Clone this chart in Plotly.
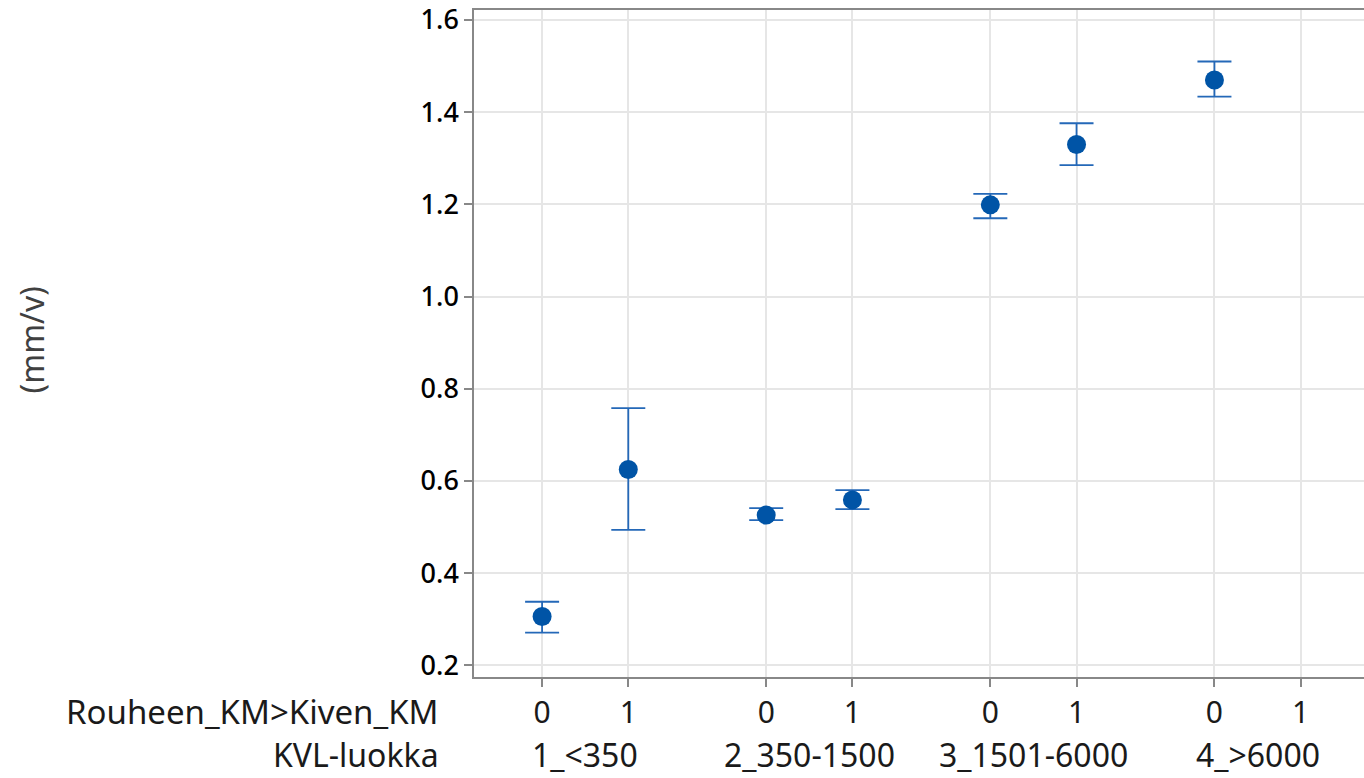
import plotly.graph_objects as go

# Data
groups = ["1_<350", "2_350-1500", "3_1501-6000", "4_>6000"]
sub_labels = ["0", "1"]
means = [0.306, 0.625, 0.526, 0.559, 1.199, 1.330, 1.470, None]
upper = [0.338, 0.758, 0.541, 0.580, 1.223, 1.376, 1.510, None]
lower = [0.271, 0.494, 0.515, 0.539, 1.170, 1.285, 1.434, None]
y_ticks = [0.2, 0.4, 0.6, 0.8, 1.0, 1.2, 1.4, 1.6]
y_title = "(mm/v)"
row1_title = "Rouheen_KM>Kiven_KM"
row2_title = "KVL-luokka"

GROUP_STEP = 2.6
xs, xt = [], []
for gi, g in enumerate(groups):
    for si, s in enumerate(sub_labels):
        xs.append(GROUP_STEP * gi + si)
        xt.append(s)

err_plus = [None if m is None else u - m for m, u in zip(means, upper)]
err_minus = [None if m is None else m - l for m, l in zip(means, lower)]

FONT = "Noto Sans"
TXT = "#1a1a1a"
fig = go.Figure()
fig.add_trace(go.Scatter(
    x=xs, y=means, mode="markers",
    marker=dict(size=19, color="#0054A6", symbol="circle"),
    error_y=dict(type="data", symmetric=False, array=err_plus, arrayminus=err_minus,
                 color="#2468B8", thickness=1.8, width=17),
    showlegend=False, hoverinfo="skip",
))

annotations = []
for gi, g in enumerate(groups):
    annotations.append(dict(x=GROUP_STEP * gi + 0.5, xref="x", y=-0.1514, yref="paper",
                            text=g, showarrow=False, xanchor="center", yanchor="bottom",
                            font=dict(family=FONT, size=32, color=TXT)))
annotations.append(dict(x=-0.037, xref="paper", y=-0.051, yref="paper", text=row1_title,
                        showarrow=False, xanchor="right", yanchor="middle",
                        font=dict(family=FONT, size=33, color=TXT)))
annotations.append(dict(x=-0.037, xref="paper", y=-0.1514, yref="paper", text=row2_title,
                        showarrow=False, xanchor="right", yanchor="bottom",
                        font=dict(family=FONT, size=32, color=TXT)))
annotations.append(dict(x=-0.4975, xref="paper", y=0.505, yref="paper", text=y_title,
                        showarrow=False, textangle=-90, xanchor="center", yanchor="middle",
                        font=dict(family=FONT, size=32, color="#404040")))

fig.update_layout(
    width=1364, height=778,
    margin=dict(l=474, r=0, t=10, b=101),
    paper_bgcolor="white", plot_bgcolor="white",
    font=dict(family=FONT, size=26, color=TXT),
    annotations=annotations,
)
fig.update_xaxes(
    range=[-0.79, 9.535], tickmode="array", tickvals=xs, ticktext=xt,
    showgrid=True, gridcolor="#e6e6e6", gridwidth=1.5,
    showline=True, linecolor="#888888", linewidth=1.5, mirror=True,
    ticks="outside", ticklen=8, tickcolor="#888888", tickwidth=1.5,
    zeroline=False, tickfont=dict(family=FONT, size=30, color=TXT),
)
fig.update_yaxes(
    range=[0.1748, 1.6217], tickmode="array", tickvals=y_ticks,
    ticktext=[f"{v:.1f}" for v in y_ticks],
    showgrid=True, gridcolor="#e6e6e6", gridwidth=1.5,
    showline=True, linecolor="#888888", linewidth=1.5, mirror=False,
    ticks="outside", ticklen=8, tickcolor="#888888", tickwidth=1.5,
    zeroline=False, tickfont=dict(family=FONT, size=27, color="#000000", weight=500),
)

fig.write_html("out.html")
